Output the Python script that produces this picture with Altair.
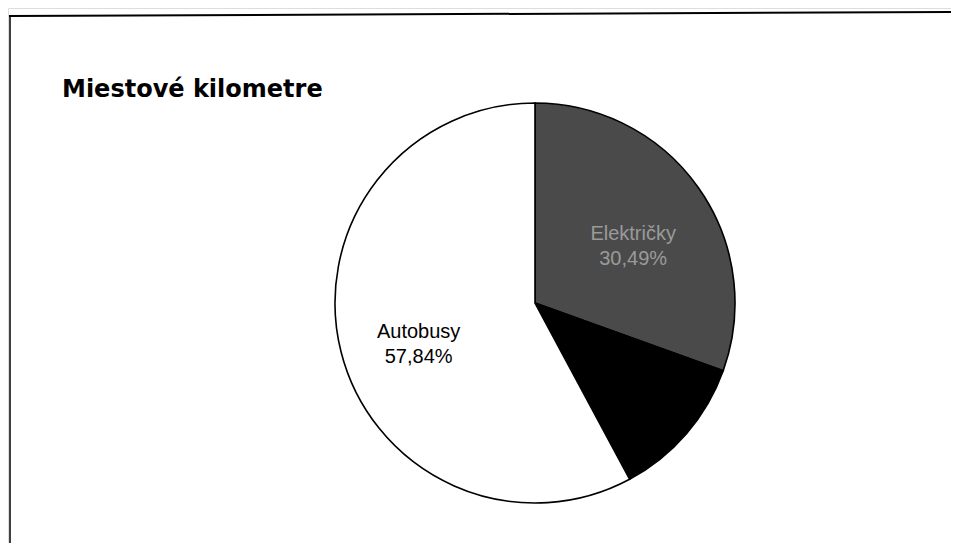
import altair as alt
import pandas as pd

categories = ["Električky", "Trolejbusy", "Autobusy"]
shares = [30.49, 11.67, 57.84]
labels = ["Električky\n30,49%", "Trolejbusy\n11,67%", "Autobusy\n57,84%"]
fills = ["#4a4a4a", "#000000", "#ffffff"]
label_colors = ["#9a9a9a", "#000000", "#000000"]
title_text = "Miestové kilometre"

df = pd.DataFrame({
    "kategoria": categories,
    "podiel": shares,
    "popis": labels,
    "poradie": [0, 1, 2],
    "farba": fills,
    "farba_textu": label_colors,
})

W, H = 943, 535
CX, CY = 527, 295

base = alt.Chart(df).encode(
    theta=alt.Theta("podiel:Q", stack=True),
    order=alt.Order("poradie:O"),
)

arcs = base.mark_arc(outerRadius=200, stroke="#000000", strokeWidth=1.6).encode(
    x=alt.value(CX),
    y=alt.value(CY),
    fill=alt.Color("farba:N", scale=None),
)

texts = base.mark_text(
    radius=120, font="Liberation Sans", fontSize=20, lineBreak="\n",
    lineHeight=25, align="center", baseline="middle",
).encode(
    x=alt.value(CX),
    y=alt.value(CY),
    text="popis:N",
    color=alt.Color("farba_textu:N", scale=None),
)

title = alt.Chart(pd.DataFrame({"t": [title_text]})).mark_text(
    font="DejaVu Sans", fontWeight="bold", fontSize=24, align="left",
    baseline="alphabetic", color="#000000",
).encode(x=alt.value(54), y=alt.value(89), text="t:N")

top_line = alt.Chart(pd.DataFrame({"a": [0]})).mark_rule(
    color="#000000", strokeWidth=2
).encode(x=alt.value(1), x2=alt.value(W), y=alt.value(8), y2=alt.value(4))

left_line = alt.Chart(pd.DataFrame({"a": [0]})).mark_rule(
    color="#000000", strokeWidth=1.5
).encode(x=alt.value(2), x2=alt.value(2), y=alt.value(8), y2=alt.value(H))

chart = alt.layer(arcs, texts, title, top_line, left_line).properties(
    width=W, height=H, padding=0,
    autosize=alt.AutoSizeParams(type="none"),
).configure_view(stroke=None).configure(background="#ffffff")

chart.save("out.html", embed_options={"renderer": "svg", "actions": False})
